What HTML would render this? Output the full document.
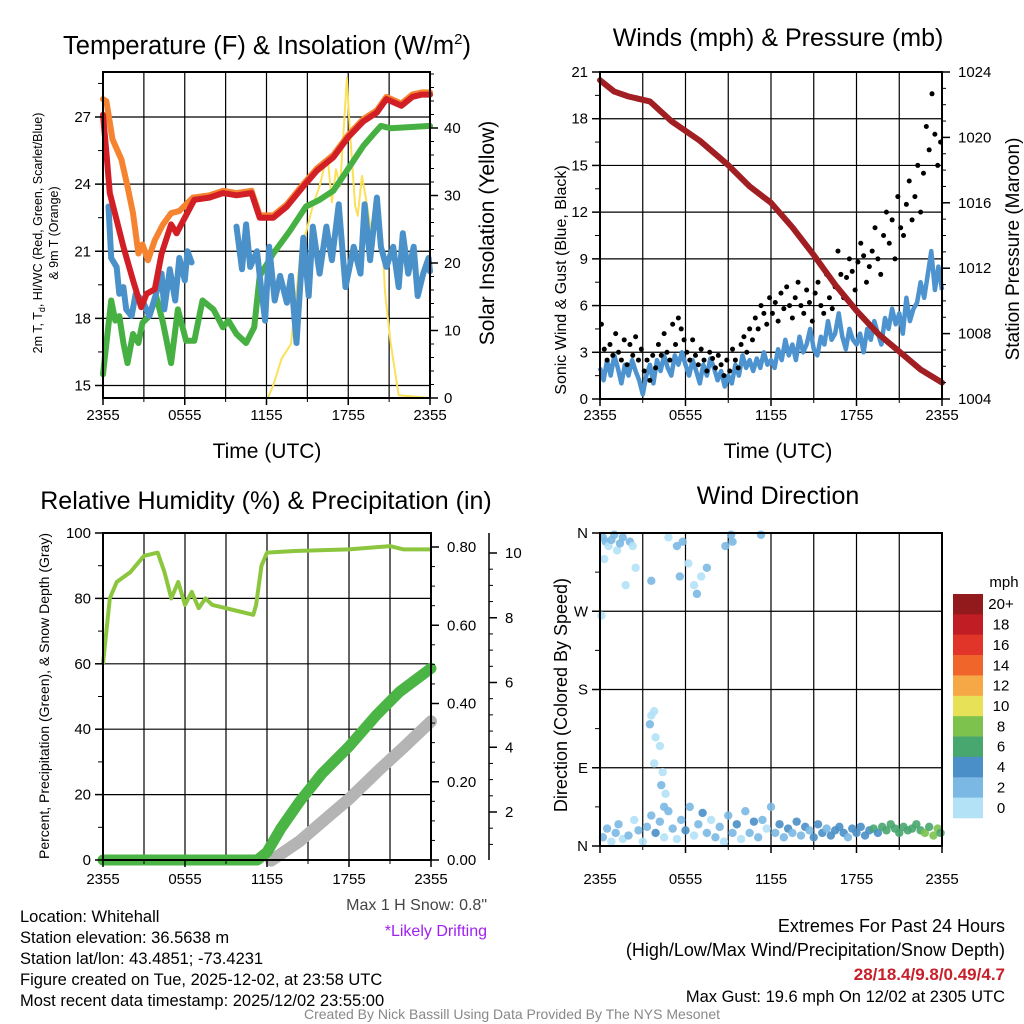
<!DOCTYPE html>
<html><head><meta charset="utf-8"><style>
body{margin:0;background:#fff;}
svg{display:block;font-family:"Liberation Sans",sans-serif;}
</style></head><body>
<svg id="c" width="1024" height="1024" viewBox="0 0 1024 1024"></svg>
<script>
// ---------- DATA ----------
const tempHours=[0,0.25,0.5,1,1.5,2.2,2.8,3.2,3.8,4.3,5,5.4,6,6.7,7.8,8.8,9.8,10.9,11.5,12.5,13.5,14.7,15.7,16.9,18,19.1,20.1,20.8,21.9,22.7,23.4,24];
const tempRed=[27.1,25.4,23.6,22.4,21.2,19.7,18.5,19.1,19.3,20.9,22.2,21.8,22.5,23.3,23.4,23.6,23.5,23.6,22.5,22.5,23,23.9,24.6,25.2,26.1,26.8,27.2,27.8,27.5,27.9,28,28];
const orangeHours=[0,0.25,0.7,1.35,1.8,2.2,2.6,2.9,3.3,3.8,4.4,5,5.6,6.6,7.8,8.8,9.8,10.9,11.5,12.5,13.5,14.7,15.7,16.9,18,19.1,20.1,20.8,21.9,22.7,23.4,24];
const tempOrange=[27.8,27.7,26,25.1,23.9,22.7,20.9,21.3,20.6,21.5,22.2,22.7,22.8,23.4,23.5,23.7,23.6,23.7,22.6,22.6,23.1,24,24.7,25.3,26.2,26.9,27.3,27.9,27.6,28,28.1,28.1];
const blueHours=[0.4,0.6,1,1.2,1.5,1.7,2.1,2.4,2.9,3.4,3.9,4.3,4.5,4.9,5.3,5.6,6,6.2,6.5,null,9.8,10.2,10.5,10.8,11.3,11.6,11.9,12.2,12.6,13,13.5,13.8,14.2,14.7,15.1,15.4,15.9,16.4,16.8,17.3,17.8,18.4,18.9,19.2,19.6,20.1,20.4,20.8,21.3,21.7,22,22.4,22.8,23.1,23.5,23.9,24];
const tempBlue=[23,20.7,20.3,19.1,19.4,18.4,18.1,19.1,18.8,18.1,19.1,20,18.4,20.2,18.8,20.7,19.7,21,20.5,null,22.1,20.2,22.2,20.3,21,19.4,17.9,21.2,18.8,19.9,18.7,19.9,16.9,21.6,19,22.1,20,22.1,20.6,23.1,19.4,21.2,20,23.1,20.6,23.4,21.2,20.3,21.2,19.4,21.8,20,21.2,19,20,20.7,20.1];
const greenHours=[0,0.2,0.6,0.9,1.2,1.5,1.8,2.2,2.6,2.9,3.4,3.9,4.4,5,5.5,6.1,6.7,7.3,8.1,8.8,9.2,9.8,10.5,11.1,11.5,12.5,13.7,14.9,15.9,16.9,17.9,19.1,19.8,20.4,21.1,24];
const tempGreen=[15.5,16.6,18.8,17.9,18.1,16.9,16,17.3,16.9,17.8,18.1,19,17.8,16,18.4,17,17,18.8,18.4,17.6,17.9,17.3,16.9,17.6,19.9,20.9,21.9,23,23.3,23.7,24.6,25.7,26.2,26.6,26.5,26.6];
const solarHours=[0,12.1,12.5,13.1,13.8,14.2,14.6,14.9,15.4,15.9,16.2,16.5,16.8,17.1,17.4,17.9,18.1,18.5,18.7,19,19.3,19.7,20.1,20.5,20.7,21.1,21.7,24];
const solarVals=[0,0,1.9,5.8,8,15.7,23.5,24.5,28.5,31.4,33.9,35.4,29,33.9,31.4,47.4,40.3,28.5,27,32.9,29.5,24.5,29.5,23.5,15.7,8.3,0.4,0];
const tempTicks=[15,18,21,24,27];
const solarTicks=[0,10,20,30,40];
const timeLabels=["2355","0555","1155","1755","2355"];

const windMean=[2,1.2,2.5,1.5,2.8,2,1,2.2,1.5,2.5,1.8,1.2,0.3,1.5,2.2,1,2.5,1.8,2.8,2,1.5,2.8,2.2,3,2.2,
1.5,2.5,1.8,1,2.2,1.5,2.6,2,1.2,1.8,0.8,1.5,1,2.2,1.5,2.8,2,2.5,1.8,2.6,2,3,2.2,2.5,
2,3.2,2.5,3.8,2.8,3.5,2.5,4,3,3.5,4.5,3.2,2.8,4,3.5,5,3.8,4.2,5.5,4,3.2,4.5,3.8,3.5,
4.2,3,4.5,3.8,5,4.2,3.5,5.2,4.5,5.8,4.8,5.5,4.2,6.5,5,5.8,6.2,7.5,6.5,8,9.5,7,8.5,7];
const gustHours=[0.1,0.3,0.5,0.7,0.9,1.1,1.3,1.5,1.7,1.9,2.1,2.3,2.5,2.7,2.9,3.1,3.3,3.5,3.7,3.9,4.1,4.3,4.5,4.7,4.9,5.1,5.3,5.5,5.7,5.9,6.1,6.3,6.5,6.7,6.9,7.1,7.3,7.5,7.7,7.9,8.1,8.3,8.5,8.7,8.9,9.1,9.3,9.5,9.7,9.9,10.1,10.3,10.5,10.7,10.9,11.1,11.3,11.5,11.7,11.9,12.1,12.3,12.5,12.7,12.9,13.1,13.3,13.5,13.7,13.9,14.1,14.3,14.5,14.7,14.9,15.1,15.3,15.5,15.7,15.9,16.1,16.3,16.5,16.7,16.9,17.1,17.3,17.5,17.7,17.9,18.1,18.3,18.5,18.7,18.9,19.1,19.3,19.5,19.7,19.9,20.1,20.3,20.5,20.7,20.9,21.1,21.3,21.5,21.7,21.9,22.1,22.3,22.5,22.7,22.9,23.1,23.3,23.5,23.7,23.9];
const gustVals=[4.8,3.2,2.5,3.5,2.8,4.2,3,2.5,3.8,2.2,3.5,2.8,4,2.5,3.2,1.8,2.5,1.2,2.8,2,3.5,2.8,4.2,3,2.5,4.8,3.5,5.2,4.5,3.8,3,2.5,3.8,2.8,2.2,3.2,2.5,1.8,3,2.6,2,2.8,2.2,1.5,2.5,1.8,3.2,2.5,2,3.5,4,3,4.5,3.8,5.2,4.5,6,5.5,4.8,6.5,5.5,6.2,5,6.8,5.8,7.2,6,5.2,6.5,7.5,6,5.5,7,6.2,5,6.8,7.5,6,5.5,8,6.5,5.8,7.2,9.5,8,6.5,7.8,9,8.2,7,8.8,10,9.2,7.5,8.5,9.5,11,9,8,10.5,12,10,11.5,9,13,11,10.5,12.5,14,11.5,13,15,12,14.5,17.5,16,19.6,17,15,16.5];
const presHours=[0,1,2,3.5,5,7,9,10.5,12,13.5,15,16.5,18,19.5,21,22.5,24];
const presVals=[1023.5,1022.8,1022.5,1022.2,1021,1019.8,1018.3,1017,1016,1014.5,1012.8,1011,1009.4,1008,1006.9,1005.8,1005];
const windTicks=[0,3,6,9,12,15,18,21];
const presTicks=[1004,1008,1012,1016,1020,1024];

const rhHours=[0,0.5,1,2,3,4,4.5,5,5.5,6,6.5,7,7.5,8,9,10,11,11.2,11.6,12,14,18,21,22,24];
const rhVals=[60,80,85,88,93,94,88,80,85,78,82,77,80,78,77,76,75,78,90,94,94.5,95,96,95,95];
const precipHours=[0,11.3,12,13,14.4,16,18,20,21.7,24];
const precipVals=[0,0,0.02,0.08,0.15,0.22,0.29,0.37,0.43,0.49];
const snowHours=[12.3,14.4,16.6,18,20.2,22,24];
const snowVals=[0.5,1.1,1.9,2.4,3.3,4,4.8];
const rhTicks=[0,20,40,60,80,100];
const precipTicks=[0,0.2,0.4,0.6,0.8];
const snowTicks=[2,4,6,8,10];

const dirHours=[0.2,0.4,0.6,0.8,1,1.2,1.4,1.6,0.3,0.1,1.8,2.1,2.3,2.5,4.8,5.4,5.6,5.8,6.2,6.6,6.8,7.1,7.5,8.8,9.2,9.3,11.3,3.6,3.6,3.8,3.5,3.9,4.2,3.8,4.4,4.3,4.6,4.5,0.2,0.5,0.8,1.1,1.3,1.6,2,2.4,2.7,3,3.3,3.6,3.9,4.2,4.5,4.8,5.1,5.4,5.7,6,6.3,6.6,6.9,7.2,7.5,7.8,8.1,8.4,8.7,9,9.3,9.6,9.9,10.2,10.5,10.8,11.1,11.4,11.7,12,12.3,12.6,12.9,13.2,13.5,13.8,14.1,14.4,14.7,15,15.3,15.6,15.9,16.2,16.5,16.8,17.1,17.4,17.7,18,18.3,18.6,18.9,19.2,19.5,19.8,20.1,20.4,20.7,21,21.3,21.6,21.9,22.2,22.5,22.8,23.1,23.4,23.7,23.9];
const dirVals=[355,350,345,352,358,340,348,355,330,265,300,350,345,320,355,345,310,350,325,300,290,310,320,345,358,350,358,305,150,155,140,125,115,95,85,70,60,45,10,20,5,15,25,8,12,30,18,5,22,35,15,28,10,40,20,8,30,18,45,12,25,38,15,30,10,22,5,35,15,25,8,40,15,28,10,30,20,45,15,25,10,20,15,28,12,22,18,10,25,15,20,12,18,22,15,10,20,15,22,12,18,20,15,22,18,25,20,15,22,18,20,25,18,15,22,12,20,15];
const dirSpeeds=[2,3,1,2,3,1,2,3,1,1,1,2,1,1,1,2,2,3,1,1,2,1,2,2,3,3,3,2,1,1,2,1,1,1,1,3,1,2,2,3,1,2,3,1,2,1,3,1,2,3,4,3,1,2,3,1,2,4,3,1,3,4,2,1,3,2,1,3,2,4,1,2,3,4,2,3,1,2,3,4,3,4,2,4,3,4,3,4,4,4,3,4,5,4,4,3,5,4,5,4,5,6,5,6,6,7,6,7,7,6,7,6,7,8,7,9,8,7];
const dirTicks=["N","E","S","W","N"];
const cbLabels=["20+","18","16","14","12","10","8","6","4","2","0"];
const cbColors=["#921a1d","#c01d25","#e1352a","#f0652a","#f7a846","#e7e158","#7cc24c","#48a66f","#4a8fc7","#7bb8e3","#b3e1f6"];

// ---------- HELPERS ----------
const NS="http://www.w3.org/2000/svg";
const svg=document.getElementById('c');
function mk(tag,attrs,parent){const e=document.createElementNS(NS,tag);for(const k in attrs)e.setAttribute(k,attrs[k]);(parent||svg).appendChild(e);return e;}
function txt(s,x,y,size,opts,parent){opts=opts||{};const e=mk('text',{x:x,y:y,'font-size':size,'text-anchor':opts.anchor||'middle',fill:opts.fill||'#000','font-weight':opts.bold?'bold':'normal'},parent);if(opts.rot)e.setAttribute('transform','rotate('+opts.rot+' '+x+' '+y+')');e.textContent=s;return e;}
function lin(d0,d1,r0,r1){return v=>r0+(v-d0)*(r1-r0)/(d1-d0);}
function pathFrom(xs,ys,fx,fy){let d='',pen=false;for(let i=0;i<xs.length;i++){if(xs[i]===null||ys[i]===null){pen=false;continue;}d+=(pen?'L':'M')+fx(xs[i]).toFixed(1)+','+fy(ys[i]).toFixed(1);pen=true;}return d;}
function frame(x0,y0,x1,y1,name){const g=mk('g',{});return g;}
function grid(g,x0,y0,x1,y1,fx,hys){for(let h=3;h<24;h+=3){const l=mk('line',{x1:fx(h),x2:fx(h),y1:y0,y2:y1,stroke:'#000','stroke-width':1.2},g);}
 hys.forEach(y=>{const l=mk('line',{x1:x0,x2:x1,y1:y,y2:y,stroke:'#000','stroke-width':1.2},g);});}
function border(g,x0,y0,x1,y1){const r=mk('rect',{x:x0,y:y0,width:x1-x0,height:y1-y0,fill:'none',stroke:'#000','stroke-width':2},g);}
function xTicks(g,fx,yb,ly){timeLabels.forEach((s,i)=>{const x=fx(i*6);mk('line',{x1:x,x2:x,y1:yb,y2:yb+7,stroke:'#000','stroke-width':1.5},g);const t=txt(s,x,ly,15,{},g);});
 for(let h=0;h<=24;h+=3){mk('line',{x1:fx(h),x2:fx(h),y1:yb,y2:yb+4,stroke:'#000','stroke-width':1},g);}}

// ---------- PANEL 1 ----------
(function(){
 const x0=103,x1=430,y0=72,y1=398;
 const fx=lin(0,24,x0,x1), fy=lin(15,27,385.5,117), fs=lin(0,40,398,128);
 const g=frame(x0,y0,x1,y1,'temperature-panel');
 grid(g,x0,y0,x1,y1,fx,tempTicks.map(fy));
 const series=[[solarHours,solarVals,fs,'#fbe05a',2,'solar-insolation-line'],[greenHours,tempGreen,fy,'#46b142',6,'dewpoint-line'],[blueHours,tempBlue,fy,'#4a90c9',6,'wind-chill-line'],[orangeHours,tempOrange,fy,'#f6832f',6,'temp-9m-line'],[tempHours,tempRed,fy,'#d21f26',6,'temp-2m-line']];
 series.forEach(s=>{const p=mk('path',{d:pathFrom(s[0],s[1],fx,s[2]),fill:'none',stroke:s[3],'stroke-width':s[4],'stroke-linejoin':'round','stroke-linecap':'round'},g);});
 border(g,x0,y0,x1,y1);
 tempTicks.forEach(v=>{mk('line',{x1:x0-8,x2:x0,y1:fy(v),y2:fy(v),stroke:'#000','stroke-width':1.5},g);const t=txt(String(v),x0-12,fy(v)+5,15,{anchor:'end'},g);
   mk('line',{x1:x0-5,x2:x0,y1:fy(v+1.5),y2:fy(v+1.5),stroke:'#000','stroke-width':1},g);});
 solarTicks.forEach(v=>{mk('line',{x1:x1,x2:x1+8,y1:fs(v),y2:fs(v),stroke:'#000','stroke-width':1.5},g);const t=txt(String(v),x1+14,fs(v)+5,15,{anchor:'start'},g);
   for(let m=2;m<10;m+=2)mk('line',{x1:x1,x2:x1+4,y1:fs(v+m),y2:fs(v+m),stroke:'#000','stroke-width':1},g);});
 xTicks(g,fx,y1,420);
 let t=mk('text',{x:267,y:54,'font-size':25.5,'text-anchor':'middle'});t.innerHTML='Temperature (F) &amp; Insolation (W/m<tspan font-size="15" dy="-10">2</tspan><tspan dy="10">)</tspan>';
 
 
 t=txt('Time (UTC)',267,458,21);
 t=txt('Solar Insolation (Yellow)',494,233,21,{rot:-90});
 t=mk('text',{x:42,y:233,'font-size':12.5,'text-anchor':'middle',transform:'rotate(-90 42 233)'});t.innerHTML='2m T, T<tspan font-size="9" dy="3">d</tspan><tspan dy="-3">, HI/WC (Red, Green, Scarlet/Blue)</tspan>';
 
 
 t=txt('& 9m T (Orange)',58,233,12.5,{rot:-90});
})();

// ---------- PANEL 2 ----------
(function(){
 const x0=600,x1=942,y0=72,y1=399;
 const fx=lin(0,24,x0,x1), fy=lin(0,21,y1,y0), fp=lin(1004,1024,y1,y0);
 const g=frame(x0,y0,x1,y1,'winds-panel');
 grid(g,x0,y0,x1,y1,fx,windTicks.map(fy));
 const mh=windMean.map((v,i)=>i*24/(windMean.length-1));
 let p=mk('path',{d:pathFrom(mh,windMean,fx,fy),fill:'none',stroke:'#4d93cf','stroke-width':4.5,'stroke-linejoin':'round'},g);
 
 
 gustHours.forEach((h,i)=>{const c=mk('circle',{cx:fx(h),cy:fy(gustVals[i]),r:2.5,fill:'#000'},g);
   
   });
 p=mk('path',{d:pathFrom(presHours,presVals,fx,fp),fill:'none',stroke:'#a11f22','stroke-width':6,'stroke-linejoin':'round','stroke-linecap':'round'},g);
 
 
 border(g,x0,y0,x1,y1);
 windTicks.forEach(v=>{mk('line',{x1:x0-8,x2:x0,y1:fy(v),y2:fy(v),stroke:'#000','stroke-width':1.5},g);const t=txt(String(v),x0-12,fy(v)+5,15,{anchor:'end'},g);
   if(v<21)mk('line',{x1:x0-5,x2:x0,y1:fy(v+1.5),y2:fy(v+1.5),stroke:'#000','stroke-width':1},g);});
 presTicks.forEach(v=>{mk('line',{x1:x1,x2:x1+8,y1:fp(v),y2:fp(v),stroke:'#000','stroke-width':1.5},g);const t=txt(String(v),x1+16,fp(v)+5,15,{anchor:'start'},g);
   if(v<1024)for(let m=1;m<4;m++)mk('line',{x1:x1,x2:x1+4,y1:fp(v+m),y2:fp(v+m),stroke:'#000','stroke-width':1},g);});
 xTicks(g,fx,y1,420);
 let t=txt('Winds (mph) & Pressure (mb)',778,46,25);
 t=txt('Time (UTC)',778,458,21);
 t=txt('Sonic Wind & Gust (Blue, Black)',566,280,16,{rot:-90});
 t=txt('Station Pressure (Maroon)',1019,249,19,{rot:-90});
})();

// ---------- PANEL 3 ----------
(function(){
 const x0=103,x1=431,y0=533,y1=860;
 const fx=lin(0,24,x0,x1), fy=lin(0,100,y1,y0), fpr=lin(0,0.8,y1,547), fsn=lin(2,10,812,553);
 const g=frame(x0,y0,x1,y1,'humidity-panel');
 grid(g,x0,y0,x1,y1,fx,rhTicks.slice(1,5).map(fy));
 let p=mk('path',{d:pathFrom(snowHours,snowVals,fx,fsn),fill:'none',stroke:'#b4b4b4','stroke-width':12,'stroke-linecap':'round','stroke-linejoin':'round'},g);
 
 
 p=mk('path',{d:pathFrom(precipHours,precipVals,fx,fpr),fill:'none',stroke:'#4ab544','stroke-width':11,'stroke-linecap':'round','stroke-linejoin':'round'},g);
 
 
 p=mk('path',{d:pathFrom(rhHours,rhVals,fx,fy),fill:'none',stroke:'#8cc63f','stroke-width':4,'stroke-linejoin':'round'},g);
 
 
 border(g,x0,y0,x1,y1);
 rhTicks.forEach(v=>{mk('line',{x1:x0-8,x2:x0,y1:fy(v),y2:fy(v),stroke:'#000','stroke-width':1.5},g);const t=txt(String(v),x0-12,fy(v)+5,15,{anchor:'end'},g);
   if(v<100)mk('line',{x1:x0-5,x2:x0,y1:fy(v+10),y2:fy(v+10),stroke:'#000','stroke-width':1},g);});
 precipTicks.forEach(v=>{mk('line',{x1:x1,x2:x1+8,y1:fpr(v),y2:fpr(v),stroke:'#000','stroke-width':1.5},g);const t=txt(v.toFixed(2),x1+16,fpr(v)+5,15,{anchor:'start'},g);
   for(let m=0.05;m<0.2;m+=0.05)if(v+m<0.83)mk('line',{x1:x1,x2:x1+4,y1:fpr(v+m),y2:fpr(v+m),stroke:'#000','stroke-width':1},g);});
 mk('line',{x1:489,x2:489,y1:533,y2:860,stroke:'#000','stroke-width':1.5},g);
 snowTicks.forEach(v=>{mk('line',{x1:489,x2:497,y1:fsn(v),y2:fsn(v),stroke:'#000','stroke-width':1.5},g);const t=txt(String(v),505,fsn(v)+5,15,{anchor:'start'},g);
   for(let m=0.5;m<2;m+=0.5)if(fsn(v-m)<860)mk('line',{x1:489,x2:493,y1:fsn(v-m),y2:fsn(v-m),stroke:'#000','stroke-width':1},g);});
 xTicks(g,fx,y1,884);
 let t=txt('Relative Humidity (%) & Precipitation (in)',266,509,25);
 t=txt('Percent, Precipitation (Green), & Snow Depth (Gray)',49,696,14,{rot:-90});
})();

// ---------- PANEL 4 ----------
(function(){
 const x0=600,x1=942,y0=533,y1=846;
 const fx=lin(0,24,x0,x1), fy=lin(0,360,y1,y0);
 const g=frame(x0,y0,x1,y1,'wind-direction-panel');
 grid(g,x0,y0,x1,y1,fx,[90,180,270].map(fy));
 dirHours.forEach((h,i)=>{const s=dirSpeeds[i];const bin=Math.min(10,Math.floor(s/2));const c=mk('circle',{cx:fx(h),cy:fy(dirVals[i]),r:4.2,fill:cbColors[10-bin],'fill-opacity':0.9},g);
   
   });
 border(g,x0,y0,x1,y1);
 dirTicks.forEach((s,i)=>{const y=fy(i*90);mk('line',{x1:x0-8,x2:x0,y1:y,y2:y,stroke:'#000','stroke-width':1.5},g);const t=txt(s,x0-12,y+5,15,{anchor:'end'},g);
   if(i<4)mk('line',{x1:x0-5,x2:x0,y1:fy(i*90+45),y2:fy(i*90+45),stroke:'#000','stroke-width':1},g);});
 xTicks(g,fx,y1,884);
 let t=txt('Wind Direction',778,504,25);
 t=txt('Direction (Colored By Speed)',567,695,18,{rot:-90});
 const cb=mk('g',{});
 const bh=(818-594)/11;
 cbColors.forEach((c,i)=>{const r=mk('rect',{x:953,y:594+i*bh,width:30,height:bh+0.3,fill:c},cb);
   const tl=txt(cbLabels[i],1001,594+i*bh+bh/2+5,15,{},cb);});
 t=txt('mph',1004,587,15,{},cb);
})();

// ---------- FOOTER TEXT ----------
const infoLines=["Location: Whitehall","Station elevation: 36.5638 m","Station lat/lon: 43.4851; -73.4231","Figure created on Tue, 2025-12-02, at 23:58 UTC","Most recent data timestamp: 2025/12/02 23:55:00"];
infoLines.forEach((s,i)=>{const t=txt(s,20,922+i*21,16.5,{anchor:'start'});
 
 });
let ft=txt('Max 1 H Snow: 0.8"',487,910,16,{anchor:'end',fill:'#444'});
ft=txt('*Likely Drifting',487,936,16,{anchor:'end',fill:'#a020f0'});
ft=txt('Extremes For Past 24 Hours',1005,932,18,{anchor:'end'});
ft=txt('(High/Low/Max Wind/Precipitation/Snow Depth)',1005,956,18,{anchor:'end'});
ft=txt('28/18.4/9.8/0.49/4.7',1005,980,17,{anchor:'end',fill:'#c8202a',bold:true});
ft=txt('Max Gust: 19.6 mph On 12/02 at 2305 UTC',1005,1002,16.5,{anchor:'end'});
ft=txt('Created By Nick Bassill Using Data Provided By The NYS Mesonet',512,1019,14,{fill:'#888'});
</script>
</body></html>
